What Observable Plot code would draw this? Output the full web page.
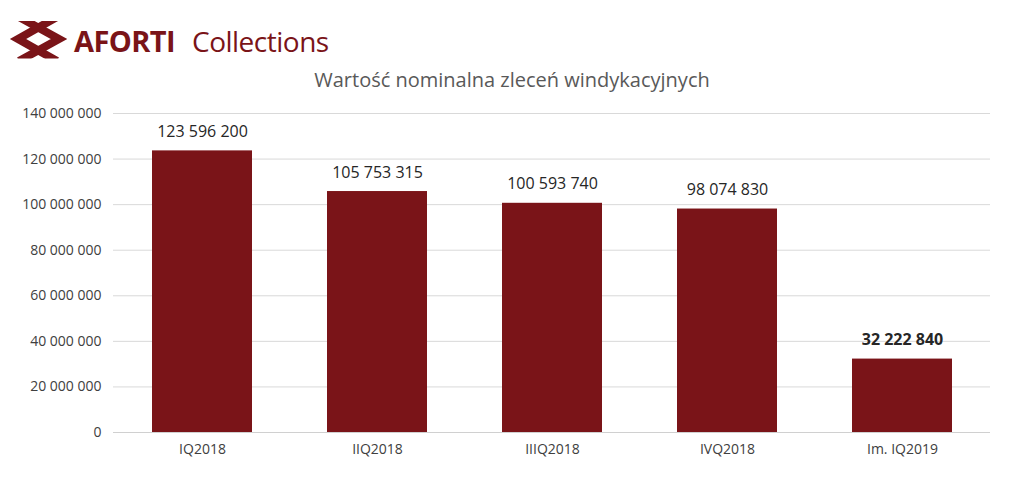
<!DOCTYPE html>
<html><head><meta charset="utf-8">
<script src="https://cdn.jsdelivr.net/npm/d3@7"></script>
<script src="https://cdn.jsdelivr.net/npm/@observablehq/plot@0.6"></script>
<style>
body{margin:0;background:#fff;width:1024px;height:482px;overflow:hidden;font-family:"Open Sans",sans-serif;}
#header{position:relative;height:95px;}
#logo{position:absolute;left:8px;top:18px;}
#title{position:absolute;left:0;width:1024px;top:66px;text-align:center;font-size:20px;color:#595959;}
</style></head><body>
<div id="header">
<svg id="logo" width="340" height="45" viewBox="0 0 340 45">
  <defs><clipPath id="lc"><rect x="0" y="3" width="62" height="37.5"/></clipPath></defs>
  <g clip-path="url(#lc)" fill="none" stroke="#7a1418" stroke-width="8" stroke-linejoin="miter" stroke-miterlimit="10">
    <polyline points="49,-1 10,21 49,43"/>
    <polyline points="11,-1 51,21 11,43"/>
  </g>
  <text x="66" y="34" font-family="'Open Sans',sans-serif" font-weight="700" font-size="29" fill="#7a1418" letter-spacing="-0.6">AFORTI</text>
  <text x="184" y="34" font-family="'Open Sans',sans-serif" font-size="28" fill="#7a1418" letter-spacing="-0.5">Collections</text>
</svg>
<div id="title">Wartość nominalna zleceń windykacyjnych</div>
</div>
<div id="chart"></div>
<script>
const categories = ["IQ2018","IIQ2018","IIIQ2018","IVQ2018","Im. IQ2019"];
const values = [123596200, 105753315, 100593740, 98074830, 32222840];
const yTicks = [0,20000000,40000000,60000000,80000000,100000000,120000000,140000000];
const boldLabel = [false,false,false,false,true];

const data = categories.map((c,i)=>({cat:c, value:values[i], bold:boldLabel[i]}));
const fmt = v => d3.format(",")(v).replace(/,/g," ");

const chart = Plot.plot({
  width:1024, height:387,
  marginLeft:113, marginRight:34, marginTop:18, marginBottom:50,
  style:{fontFamily:"'Open Sans',sans-serif", fontSize:"14px", color:"#404040", background:"#fff"},
  x:{domain:categories, paddingInner:0.43, paddingOuter:0.215, label:null, tickSize:0, tickPadding:12},
  y:{domain:[0,140000000], ticks:yTicks, tickFormat:fmt, label:null, tickSize:0, tickPadding:12},
  marks:[
    Plot.gridY(yTicks,{stroke:"#d9d9d9", strokeOpacity:1}),
    Plot.ruleY([0],{stroke:"#d0d0d0"}),
    Plot.barY(data,{x:"cat", y:"value", fill:"#7a1418"}),
    Plot.text(data.filter(d=>!d.bold),{x:"cat", y:"value", text:d=>fmt(d.value), dy:-19, fontSize:16, fill:"#262626"}),
    Plot.text(data.filter(d=>d.bold),{x:"cat", y:"value", text:d=>fmt(d.value), dy:-19, fontSize:16, fontWeight:"bold", fill:"#262626"})
  ]
});
document.getElementById("chart").appendChild(chart);
</script>
</body></html>
